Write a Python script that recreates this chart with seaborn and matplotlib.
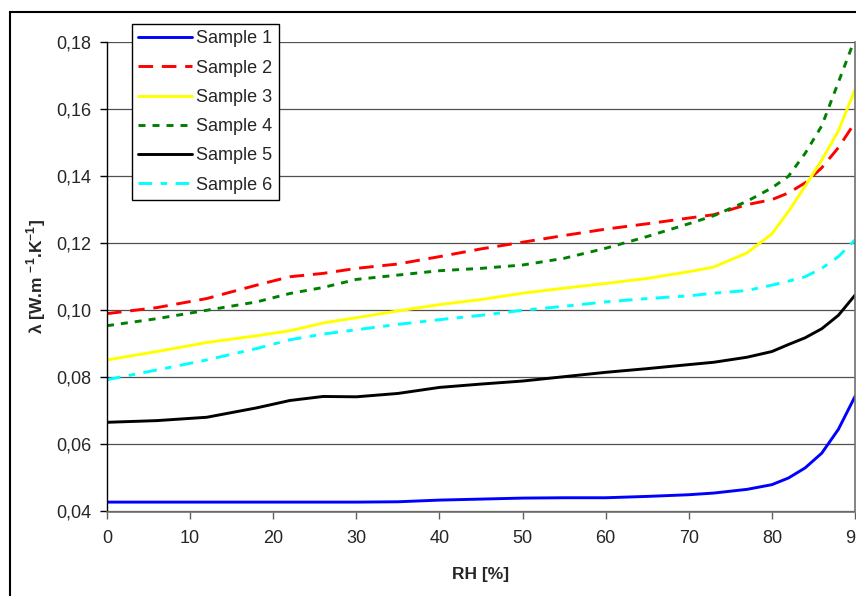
import numpy as np
import pandas as pd
import matplotlib
matplotlib.use("Agg")
import matplotlib.pyplot as plt
import seaborn as sns
from matplotlib.patches import Rectangle
from matplotlib.ticker import FuncFormatter

# --- data ---
rh = [0, 6, 12, 18, 22, 26, 30, 35, 40, 45, 50, 55, 60, 65, 70, 73, 77, 80, 82, 84, 86, 88, 90]

sample1 = [0.0428, 0.0428, 0.0428, 0.0428, 0.0428, 0.0428, 0.0428, 0.0429, 0.0434, 0.0437, 0.0440,
           0.0441, 0.0441, 0.0445, 0.0450, 0.0455, 0.0466, 0.0480, 0.0500, 0.0530, 0.0574, 0.0645, 0.0743]
sample2 = [0.0990, 0.1008, 0.1035, 0.1075, 0.1100, 0.1110, 0.1125, 0.1138, 0.1160, 0.1183, 0.1203,
           0.1223, 0.1242, 0.1258, 0.1275, 0.1285, 0.1315, 0.1330, 0.1350, 0.1380, 0.1425, 0.1485, 0.1560]
sample3 = [0.0852, 0.0877, 0.0904, 0.0924, 0.0939, 0.0962, 0.0978, 0.0998, 0.1017, 0.1032, 0.1051,
           0.1066, 0.1080, 0.1095, 0.1115, 0.1129, 0.1171, 0.1228, 0.1295, 0.1370, 0.1448, 0.1535, 0.1658]
sample4 = [0.0954, 0.0975, 0.1000, 0.1025, 0.1050, 0.1068, 0.1092, 0.1105, 0.1118, 0.1125, 0.1135,
           0.1155, 0.1185, 0.1220, 0.1258, 0.1282, 0.1325, 0.1365, 0.1400, 0.1468, 0.1550, 0.1680, 0.1810]
sample5 = [0.0666, 0.0671, 0.0681, 0.0709, 0.0731, 0.0743, 0.0742, 0.0752, 0.0770, 0.0780, 0.0789,
           0.0802, 0.0815, 0.0826, 0.0838, 0.0845, 0.0860, 0.0877, 0.0898, 0.0918, 0.0945, 0.0985, 0.1045]
sample6 = [0.0793, 0.0822, 0.0852, 0.0886, 0.0912, 0.0929, 0.0942, 0.0958, 0.0972, 0.0985, 0.1000,
           0.1012, 0.1025, 0.1035, 0.1043, 0.1051, 0.1059, 0.1075, 0.1087, 0.1100, 0.1125, 0.1160, 0.1210]

labels = ["Sample 1", "Sample 2", "Sample 3", "Sample 4", "Sample 5", "Sample 6"]
series = [sample1, sample2, sample3, sample4, sample5, sample6]
colors = ["#0000ff", "#ff0000", "#ffff00", "#008000", "#000000", "#00ffff"]
styles = ["-", (0, (5, 3)), "-", (0, (2.4, 2.4)), "-", (0, (4.7, 2.9, 2.2, 2.9))]

df = pd.DataFrame({"RH": rh})
for lab, vals in zip(labels, series):
    df[lab] = vals

# --- style ---
sns.set_style("white")
plt.rcParams["font.family"] = ["Liberation Sans", "DejaVu Sans"]
plt.rcParams["mathtext.fontset"] = "custom"
plt.rcParams["mathtext.rm"] = "Liberation Sans"
plt.rcParams["mathtext.bf"] = "Liberation Sans:bold"

fig = plt.figure(figsize=(8.56, 5.96), dpi=100)
ax = fig.add_axes([107 / 856, 1 - 511.5 / 596, 748 / 856, 469.5 / 596])

# figure frame (cropped on right and bottom like the reference)
fig.patches.append(Rectangle((9.5 / 856, -0.05), 1.2, 1 - 12.5 / 596 + 0.05,
                             transform=fig.transFigure, fill=False,
                             edgecolor="black", linewidth=1.5, zorder=0))

for lab, c, ls in zip(labels, colors, styles):
    sns.lineplot(data=df, x="RH", y=lab, ax=ax, color=c, linestyle=ls,
                 linewidth=2.1, label=lab)

ax.set_xlim(0, 90)
ax.set_ylim(0.04, 0.18)
ax.set_xticks(np.arange(0, 91, 10))
ax.set_yticks(np.arange(0.04, 0.181, 0.02))
ax.yaxis.set_major_formatter(FuncFormatter(lambda v, p: f"{v:.2f}".replace(".", ",")))

ax.grid(axis="y", color="#505050", linewidth=0.9)
ax.grid(axis="x", visible=False)
ax.set_axisbelow(True)

for side in ["top", "right", "bottom"]:
    ax.spines[side].set_color("#707070")
    ax.spines[side].set_linewidth(1.2)
ax.spines["top"].set_visible(False)
ax.spines["left"].set_color("black")
ax.spines["left"].set_linewidth(1.0)

ax.tick_params(axis="y", direction="out", length=5, width=1, color="black",
               labelsize=13, pad=6, left=True)
ax.tick_params(axis="x", direction="out", length=5, width=1, color="#606060",
               labelsize=13, pad=8, bottom=True)

ax.set_xlabel("RH [%]", fontsize=12.5, fontweight="bold", labelpad=15)
ax.set_ylabel(r"λ [W.m $^{\mathbf{-1}}$.K$^{\mathbf{-1}}$]", fontsize=12.5,
              fontweight="bold", labelpad=6)

leg = ax.legend(loc="upper left", bbox_to_anchor=(132 / 856, 1 - 24 / 596),
                bbox_transform=fig.transFigure, borderaxespad=0, fontsize=13,
                handlelength=3.0, handletextpad=0.2, labelspacing=0.68,
                borderpad=0.35, fancybox=False, framealpha=1)
leg.get_frame().set_edgecolor("black")
leg.get_frame().set_linewidth(1.0)

fig.savefig("out.png", dpi=100)
